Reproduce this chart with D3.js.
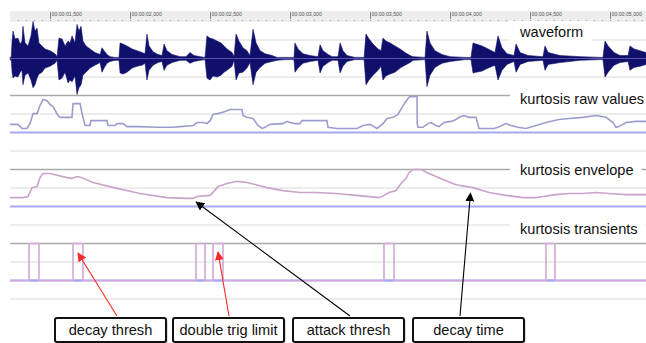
<!DOCTYPE html>
<html>
<head>
<meta charset="utf-8">
<script src="https://cdn.jsdelivr.net/npm/d3@7"></script>
<style>
  body { margin: 0; background: #fff; }
  svg { display: block; font-family: "Liberation Sans", Arial, sans-serif; }
</style>
</head>
<body>
<div id="chart"></div>
<script>
// time window shown (seconds)
const timeDomain = [1.25, 5.225];
const rulerTicks = [1.5, 2.0, 2.5, 3.0, 3.5, 4.0, 4.5, 5.0];

// waveform peak envelope: [time, max, min]
const waveform = [
  [1.250, 0.03, -0.03], [1.258, 0.05, -0.05], [1.263, 0.47, -0.37], [1.269, 0.74, -0.53],
  [1.281, 0.53, -0.47], [1.300, 0.55, -0.50], [1.313, 0.39, -0.37], [1.325, 0.47, -0.32],
  [1.331, 0.87, -0.71], [1.344, 0.42, -0.45], [1.363, 0.34, -0.39], [1.381, 0.61, -0.58],
  [1.394, 1.00, -0.79], [1.406, 0.74, -0.71], [1.419, 0.82, -0.53], [1.431, 0.42, -0.42],
  [1.450, 0.34, -0.37], [1.469, 0.26, -0.26], [1.500, 0.21, -0.21], [1.531, 0.13, -0.13],
  [1.544, 0.05, -0.05], [1.556, 0.55, -0.58], [1.575, 0.53, -0.53], [1.594, 0.34, -0.37],
  [1.613, 0.47, -0.66], [1.625, 0.42, -0.58], [1.638, 0.61, -0.63], [1.656, 0.42, -0.47],
  [1.669, 0.92, -0.97], [1.681, 0.74, -0.79], [1.694, 0.87, -0.71], [1.706, 0.47, -0.45],
  [1.725, 0.34, -0.37], [1.750, 0.26, -0.26], [1.781, 0.16, -0.18], [1.813, 0.11, -0.11],
  [1.825, 0.29, -0.37], [1.838, 0.21, -0.26], [1.856, 0.11, -0.13], [1.875, 0.05, -0.08],
  [1.906, 0.03, -0.05], [1.931, 0.03, -0.05], [1.938, 0.42, -0.39], [1.956, 0.39, -0.42],
  [1.981, 0.34, -0.37], [2.013, 0.26, -0.26], [2.044, 0.21, -0.21], [2.075, 0.16, -0.18],
  [2.094, 0.13, -0.13], [2.106, 0.66, -0.58], [2.119, 0.34, -0.32], [2.144, 0.18, -0.18],
  [2.175, 0.11, -0.11], [2.200, 0.08, -0.08], [2.213, 0.39, -0.32], [2.231, 0.21, -0.18],
  [2.263, 0.11, -0.11], [2.313, 0.05, -0.05], [2.350, 0.05, -0.05], [2.375, 0.16, -0.13],
  [2.400, 0.08, -0.08], [2.438, 0.05, -0.05], [2.469, 0.03, -0.03], [2.481, 0.61, -0.53],
  [2.500, 0.55, -0.58], [2.519, 0.53, -0.47], [2.544, 0.47, -0.50], [2.569, 0.42, -0.45],
  [2.588, 0.34, -0.37], [2.606, 0.26, -0.32], [2.638, 0.16, -0.21], [2.650, 0.05, -0.05],
  [2.663, 0.66, -0.58], [2.681, 0.47, -0.39], [2.706, 0.29, -0.37], [2.731, 0.21, -0.26],
  [2.750, 0.08, -0.11], [2.769, 0.79, -0.71], [2.788, 0.42, -0.37], [2.813, 0.21, -0.24],
  [2.844, 0.13, -0.13], [2.888, 0.08, -0.08], [2.919, 0.03, -0.05], [2.969, 0.03, -0.03],
  [3.025, 0.03, -0.03], [3.031, 0.42, -0.37], [3.050, 0.26, -0.26], [3.081, 0.13, -0.13],
  [3.125, 0.08, -0.08], [3.175, 0.05, -0.05], [3.188, 0.37, -0.39], [3.206, 0.21, -0.21],
  [3.238, 0.11, -0.11], [3.263, 0.05, -0.05], [3.300, 0.05, -0.05], [3.313, 0.42, -0.39],
  [3.331, 0.21, -0.21], [3.356, 0.08, -0.08], [3.406, 0.03, -0.03], [3.463, 0.03, -0.03],
  [3.475, 0.66, -0.71], [3.494, 0.53, -0.58], [3.519, 0.39, -0.45], [3.550, 0.26, -0.32],
  [3.569, 0.21, -0.21], [3.581, 0.55, -0.58], [3.600, 0.47, -0.47], [3.625, 0.42, -0.42],
  [3.656, 0.34, -0.37], [3.688, 0.26, -0.26], [3.719, 0.16, -0.18], [3.750, 0.08, -0.11],
  [3.769, 0.05, -0.05], [3.844, 0.03, -0.03], [3.856, 0.74, -0.76], [3.875, 0.42, -0.45],
  [3.906, 0.21, -0.24], [3.950, 0.11, -0.13], [4.000, 0.05, -0.08], [4.094, 0.03, -0.03],
  [4.131, 0.03, -0.03], [4.144, 0.42, -0.39], [4.163, 0.39, -0.37], [4.200, 0.34, -0.34],
  [4.238, 0.26, -0.26], [4.281, 0.16, -0.18], [4.300, 0.61, -0.58], [4.325, 0.29, -0.32],
  [4.356, 0.13, -0.16], [4.400, 0.08, -0.08], [4.413, 0.39, -0.37], [4.438, 0.16, -0.16],
  [4.488, 0.08, -0.08], [4.581, 0.05, -0.05], [4.594, 0.34, -0.32], [4.613, 0.16, -0.16],
  [4.688, 0.08, -0.11], [4.813, 0.05, -0.05], [4.938, 0.03, -0.03], [4.956, 0.03, -0.03],
  [4.969, 0.47, -0.50], [4.988, 0.34, -0.37], [5.025, 0.16, -0.18], [5.063, 0.08, -0.11],
  [5.113, 0.08, -0.08], [5.125, 0.34, -0.32], [5.150, 0.26, -0.24], [5.188, 0.21, -0.21],
  [5.225, 0.16, -0.16]
];

// kurtosis raw values (normalised 0..1): [time, value]
const kurtRaw = [
  [1.25, 0.22], [1.30, 0.22], [1.325, 0.11], [1.356, 0.11], [1.375, 0.24], [1.394, 0.51],
  [1.419, 0.51], [1.4375, 0.73], [1.456, 0.89], [1.481, 0.86], [1.5, 0.76], [1.519, 0.70],
  [1.55, 0.46], [1.5625, 0.41], [1.6375, 0.41], [1.644, 0.78], [1.6875, 0.78], [1.706, 0.41],
  [1.719, 0.19], [1.75, 0.19], [1.756, 0.32], [1.856, 0.32], [1.8625, 0.19], [1.906, 0.19],
  [1.919, 0.24], [1.956, 0.24], [1.981, 0.16], [2.0625, 0.16], [2.169, 0.14], [2.269, 0.14],
  [2.3125, 0.16], [2.394, 0.19], [2.419, 0.27], [2.456, 0.27], [2.481, 0.24], [2.5, 0.32],
  [2.519, 0.49], [2.55, 0.51], [2.594, 0.57], [2.625, 0.62], [2.7, 0.62], [2.706, 0.46],
  [2.731, 0.41], [2.769, 0.38], [2.8, 0.19], [2.825, 0.11], [2.844, 0.14], [2.875, 0.22],
  [2.956, 0.24], [2.981, 0.30], [3.0, 0.27], [3.031, 0.24], [3.0625, 0.24], [3.075, 0.32],
  [3.231, 0.32], [3.2375, 0.14], [3.294, 0.11], [3.419, 0.11], [3.456, 0.19], [3.5, 0.22],
  [3.544, 0.11], [3.581, 0.24], [3.606, 0.38], [3.644, 0.41], [3.675, 0.49], [3.7, 0.68],
  [3.719, 0.81], [3.7375, 0.92], [3.75, 0.97], [3.794, 0.97], [3.795, 0.24], [3.8, 0.14],
  [3.831, 0.14], [3.8625, 0.24], [3.881, 0.27], [3.9125, 0.19], [3.931, 0.16], [3.9625, 0.27],
  [4.006, 0.30], [4.0375, 0.35], [4.056, 0.41], [4.0875, 0.46], [4.119, 0.41], [4.1625, 0.41],
  [4.181, 0.11], [4.275, 0.11], [4.3, 0.14], [4.35, 0.24], [4.381, 0.19], [4.425, 0.14],
  [4.475, 0.11], [4.5375, 0.19], [4.6, 0.27], [4.681, 0.35], [4.744, 0.38], [4.831, 0.41],
  [4.9125, 0.46], [4.975, 0.41], [5.019, 0.27], [5.0375, 0.14], [5.056, 0.16], [5.1, 0.27],
  [5.1625, 0.30], [5.225, 0.30]
];

// kurtosis envelope (normalised 0..1): [time, value]
const kurtEnv = [
  [1.25, 0.24], [1.331, 0.24], [1.3625, 0.27], [1.3875, 0.51], [1.419, 0.54], [1.4375, 0.78],
  [1.456, 0.89], [1.5, 0.89], [1.606, 0.78], [1.6375, 0.76], [1.669, 0.81], [1.7, 0.78],
  [1.769, 0.65], [1.919, 0.49], [2.0625, 0.35], [2.231, 0.24], [2.356, 0.22], [2.394, 0.22],
  [2.419, 0.27], [2.5, 0.30], [2.519, 0.38], [2.55, 0.54], [2.606, 0.62], [2.669, 0.68],
  [2.731, 0.65], [2.856, 0.51], [2.956, 0.43], [3.0625, 0.38], [3.1625, 0.38], [3.2875, 0.35],
  [3.4125, 0.30], [3.556, 0.24], [3.5875, 0.30], [3.619, 0.38], [3.6625, 0.43], [3.694, 0.62],
  [3.725, 0.76], [3.744, 0.92], [3.769, 1.0], [3.819, 1.0], [3.869, 0.89], [3.956, 0.73],
  [4.0375, 0.59], [4.144, 0.51], [4.244, 0.38], [4.35, 0.30], [4.456, 0.24], [4.5375, 0.24],
  [4.581, 0.27], [4.6625, 0.32], [4.744, 0.35], [4.831, 0.35], [4.9125, 0.38], [4.994, 0.35],
  [5.1, 0.32], [5.225, 0.32]
];

// detected transients: [start, end] in seconds
const transients = [
  [1.369, 1.431], [1.644, 1.706], [2.4125, 2.469], [2.519, 2.581], [3.5875, 3.65], [4.6, 4.656]
];

const trackNames = ["waveform", "kurtosis raw values", "kurtosis envelope", "kurtosis transients"];

// callouts: label, target track, target time, target value, arrow colour
const callouts = [
  { label: "decay thresh", track: "trans", t: 1.675, v: 0.74, color: "#ff2a2a" },
  { label: "double trig limit", track: "trans", t: 2.55, v: 0.77, color: "#ff2a2a" },
  { label: "attack thresh", track: "env", t: 2.413, v: 0.12, color: "#000" },
  { label: "decay time", track: "env", t: 4.128, v: 0.36, color: "#000" }
];

const width = 646, height = 343;
const svg = d3.select("#chart").append("svg")
  .attr("width", width).attr("height", height);

const x = d3.scaleLinear().domain(timeDomain).range([10, 646]);

// row grid shared by all tracks
const row = d3.scaleLinear().domain([0, 1]).range([21.5, 40]);
const y = {
  wave: d3.scaleLinear().domain([-1, 1]).range([row(4), row(0)]),
  raw: d3.scaleLinear().domain([0, 1]).range([row(6), row(4)]),
  env: d3.scaleLinear().domain([0, 1]).range([row(10), row(8)]),
  trans: d3.scaleLinear().domain([0, 1]).range([row(14), row(12)])
};

// ruler
svg.append("rect").attr("x", 10).attr("y", 11).attr("width", 636).attr("height", 11)
  .attr("fill", "#ededed");
const minor = d3.range(26, 105).map(d => d * 0.05);
svg.append("g").attr("transform", "translate(0,20)")
  .call(d3.axisBottom(x).tickValues(minor.filter(d => d >= timeDomain[0] && d <= timeDomain[1]))
    .tickSize(1).tickFormat(""))
  .call(g => g.select(".domain").remove())
  .selectAll("line").attr("stroke", "#999");
const fmtTime = t => {
  const s = Math.floor(t), ms = Math.round((t - s) * 1000);
  return "00:00:0" + s + "," + d3.format("03d")(ms);
};
svg.append("g").attr("transform", "translate(0,12)")
  .call(d3.axisBottom(x).tickValues(rulerTicks).tickSize(7).tickFormat(fmtTime))
  .call(g => g.select(".domain").remove())
  .call(g => g.selectAll("line").attr("stroke", "#888"))
  .call(g => g.selectAll("text").attr("y", 2).attr("dy", "0.35em").attr("x", 1)
    .attr("text-anchor", "start").attr("font-size", 5.2).attr("fill", "#555")
    .attr("font-family", "Liberation Sans, Arial, sans-serif"));

// horizontal grid
const gridRows = d3.range(1, 16);
const gridStyle = i => {
  if (i === 4 || i === 8 || i === 12) return ["#aaaaaa", 1.6];
  if (i === 6 || i === 10 || i === 14) return ["#a8a8f2", 2];
  if (i === 2) return ["#8080c8", 1];
  return ["#e6e6e6", 1.6];
};
svg.append("g").selectAll("line").data(gridRows).join("line")
  .attr("x1", 10).attr("x2", 646)
  .attr("y1", d => row(d)).attr("y2", d => row(d))
  .attr("stroke", d => gridStyle(d)[0]).attr("stroke-width", d => gridStyle(d)[1]);

// waveform
svg.append("path").datum(waveform)
  .attr("fill", "#10106c").attr("stroke", "#10106c").attr("stroke-width", 0.6)
  .attr("d", d3.area().x(d => x(d[0])).y0(d => y.wave(d[2])).y1(d => y.wave(d[1])));
svg.append("line").attr("x1", 10).attr("x2", 646).attr("y1", y.wave(0)).attr("y2", y.wave(0))
  .attr("stroke", "#6a6ab8").attr("stroke-width", 0.8);

// kurtosis raw
svg.append("path").datum(kurtRaw)
  .attr("fill", "none").attr("stroke", "#9d9dcc").attr("stroke-width", 1.6)
  .attr("d", d3.line().x(d => x(d[0])).y(d => y.raw(d[1])));

// kurtosis envelope
svg.append("path").datum(kurtEnv)
  .attr("fill", "none").attr("stroke", "#c9a3c9").attr("stroke-width", 1.6)
  .attr("d", d3.line().x(d => x(d[0])).y(d => y.env(d[1])));

// transients as a gate signal
const gate = [[timeDomain[0], 0]];
transients.forEach(([a, b]) => { gate.push([a, 0], [a, 1], [b, 1], [b, 0]); });
gate.push([timeDomain[1], 0]);
const gateLine = d3.line().x(d => x(d[0])).y(d => y.trans(d[1]));
svg.append("path").datum(gate)
  .attr("fill", "none").attr("stroke", "#d2a8d8").attr("stroke-width", 1.6)
  .attr("d", gateLine);
// blue threshold visible under each pulse
svg.append("g").selectAll("line").data(transients).join("line")
  .attr("x1", d => x(d[0]) + 1).attr("x2", d => x(d[1]) - 1)
  .attr("y1", y.trans(0)).attr("y2", y.trans(0))
  .attr("stroke", "#a8a8f2").attr("stroke-width", 2);

// track names with white backing
const labelY = [37, 104, 175, 234];
const labels = svg.append("g").selectAll("g").data(trackNames).join("g");
labels.append("rect").attr("fill", "#fff");
labels.append("text")
  .attr("x", 520).attr("y", (d, i) => labelY[i])
  .attr("font-size", 14.6).attr("fill", "#111")
  .text(d => d);
labels.each(function () {
  const g = d3.select(this), t = g.select("text");
  const bb = t.node().getBBox();
  g.select("rect").attr("x", bb.x - 10).attr("y", bb.y - 3)
    .attr("width", bb.width + 18).attr("height", bb.height + 4);
});

// callout boxes and arrows
const boxX = [55, 173, 293, 413], boxW = 111, boxTop = 318, boxH = 24;
const tailX = [117, 229, 350, 460];
const defs = svg.append("defs");
callouts.forEach((c, i) => {
  defs.append("marker").attr("id", "ah" + i)
    .attr("viewBox", "0 0 10 10").attr("refX", 9).attr("refY", 5)
    .attr("markerWidth", 9).attr("markerHeight", 9).attr("markerUnits", "userSpaceOnUse")
    .attr("orient", "auto")
    .append("path").attr("d", "M0,0L10,5L0,10Z").attr("fill", c.color);
});
const co = svg.append("g").selectAll("g").data(callouts).join("g");
co.append("line")
  .attr("x1", (d, i) => tailX[i]).attr("y1", boxTop - 2)
  .attr("x2", d => x(d.t)).attr("y2", d => y[d.track](d.v))
  .attr("stroke", d => d.color).attr("stroke-width", 1.1)
  .attr("marker-end", (d, i) => `url(#ah${i})`);
co.append("rect")
  .attr("x", (d, i) => boxX[i] + 1.5).attr("y", boxTop + 1.5)
  .attr("width", boxW).attr("height", boxH).attr("rx", 2)
  .attr("fill", "#bbb");
co.append("rect")
  .attr("x", (d, i) => boxX[i]).attr("y", boxTop)
  .attr("width", boxW).attr("height", boxH).attr("rx", 2)
  .attr("fill", "#fff").attr("stroke", "#111").attr("stroke-width", 2);
co.append("text")
  .attr("x", (d, i) => boxX[i] + boxW / 2).attr("y", boxTop + 17)
  .attr("text-anchor", "middle").attr("font-size", 14.6).attr("fill", "#111")
  .text(d => d.label);
</script>
</body>
</html>
